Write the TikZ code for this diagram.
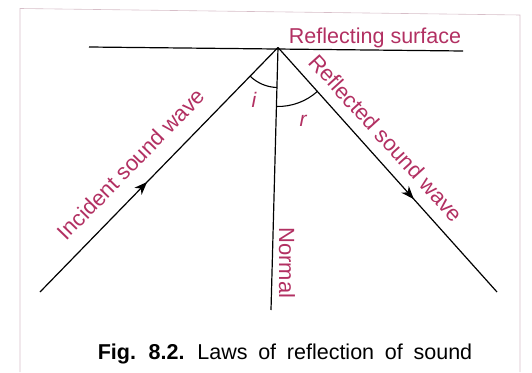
\documentclass[tikz,border=0pt]{standalone}
\usepackage{fontspec}
\setmainfont{Liberation Sans}
\usetikzlibrary{angles,decorations.markings,arrows.meta}
\definecolor{pinktxt}{RGB}{178,48,98}
\definecolor{framecol}{RGB}{215,190,200}
\tikzset{
  ray/.style={line width=1.2pt},
  lbl/.style={text=pinktxt,font=\fontsize{22}{26}\selectfont,inner sep=0pt},
  ang/.style={draw,line width=1.1pt},
  midarrow/.style={postaction={decorate},decoration={markings,mark=at position #1 with {\arrow{Stealth[length=13pt,width=10pt,inset=4pt]}}}}
}
\begin{document}
\begin{tikzpicture}[x=1pt,y=1pt]
\useasboundingbox (0,0) rectangle (532,-372);
% frame
\draw[framecol,line width=0.6pt] (20,-372) -- (20,-8.5) -- (520,-15) -- (520,-372);
% geometry
\coordinate (L) at (89,-47);
\coordinate (R) at (463,-51);
\coordinate (O) at (278,-47.5);
\coordinate (A) at (40,-292);
\coordinate (N) at (271,-310);
\coordinate (B) at (497,-292);
\draw[ray] (L) -- (R);
\draw[ray,midarrow=0.45] (A) -- (O);
\draw[ray,midarrow=0.62] (O) -- (B);
\draw[ray] (O) -- (N);
\pic[ang,angle radius=40pt] {angle=A--O--N};
\pic[ang,angle radius=59pt] {angle=N--O--B};
% labels
\node[lbl,anchor=base,font=\fontsize{21.5}{26}\selectfont] (surf) at (375,-43) {Reflecting surface};
\node[lbl,rotate=45.8] (inc) at (131,-164) {Incident sound wave};
\node[lbl,rotate=-47.8] (refl) at (386,-138) {Reflected sound wave};
\node[lbl,rotate=-90] (norm) at (287,-263) {Normal};
\node[lbl,font=\fontsize{21}{24}\itshape] (i) at (254,-100) {i};
\node[lbl,font=\fontsize{21}{24}\itshape] (r) at (303,-121) {r};
\node[anchor=base,inner sep=0pt,font=\fontsize{21.5}{26}\selectfont] (cap) at (285,-359) {\spaceskip=0.5em plus 0.1em\relax\textbf{Fig. 8.2.} Laws of reflection of sound};
\end{tikzpicture}
\end{document}
